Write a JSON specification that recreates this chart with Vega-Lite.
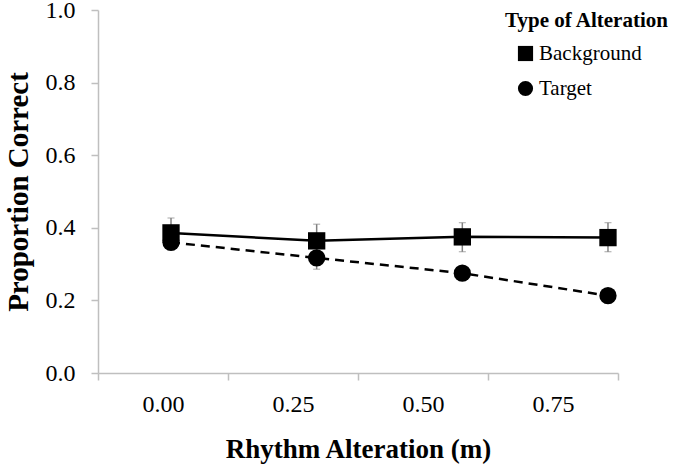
{
  "$schema": "https://vega.github.io/schema/vega-lite/v6.json",
  "width": 520,
  "height": 363,
  "autosize": "none",
  "padding": {"left": 98, "top": 10, "right": 67, "bottom": 91},
  "background": "white",
  "config": {
    "view": {"stroke": null},
    "axis": {
      "domainColor": "#bfbfbf",
      "domainWidth": 1.5,
      "tickColor": "#bfbfbf",
      "tickWidth": 1.5,
      "tickSize": 7,
      "grid": false,
      "labelFont": "Liberation Serif",
      "labelFontSize": 24,
      "labelColor": "black",
      "titleFont": "Liberation Serif",
      "titleFontWeight": "bold",
      "titleColor": "black"
    }
  },
  "datasets": {
    "cats": [{"m": "0.00"}, {"m": "0.25"}, {"m": "0.50"}, {"m": "0.75"}],
    "obs": [
      {"m": 0.0, "type": "Background", "p": 0.386, "lo": 0.345, "hi": 0.427},
      {"m": 0.25, "type": "Background", "p": 0.364, "lo": 0.318, "hi": 0.410},
      {"m": 0.5, "type": "Background", "p": 0.375, "lo": 0.334, "hi": 0.414},
      {"m": 0.75, "type": "Background", "p": 0.373, "lo": 0.334, "hi": 0.414},
      {"m": 0.0, "type": "Target", "p": 0.36, "lo": 0.34, "hi": 0.38},
      {"m": 0.25, "type": "Target", "p": 0.317, "lo": 0.286, "hi": 0.348},
      {"m": 0.5, "type": "Target", "p": 0.275, "lo": 0.26, "hi": 0.29},
      {"m": 0.75, "type": "Target", "p": 0.213, "lo": 0.2, "hi": 0.226}
    ]
  },
  "layer": [
    {
      "data": {"name": "cats"},
      "mark": {"type": "point", "opacity": 0},
      "encoding": {
        "x": {
          "field": "m",
          "type": "ordinal",
          "scale": {"type": "band", "paddingInner": 0, "paddingOuter": 0},
          "axis": {
            "title": "Rhythm Alteration (m)",
            "titleFontSize": 27,
            "labelAngle": 0,
            "labelPadding": 12,
            "titlePadding": 20,
            "tickBand": "extent"
          }
        }
      }
    },
    {
      "data": {"name": "obs"},
      "encoding": {
        "x": {"field": "m", "type": "quantitative", "scale": {"domain": [-0.1253, 0.7672], "nice": false, "zero": false}, "axis": null},
        "y": {
          "field": "p",
          "type": "quantitative",
          "scale": {"domain": [0, 1], "nice": false},
          "axis": {"title": "Proportion Correct", "titleFontSize": 29, "values": [0, 0.2, 0.4, 0.6, 0.8, 1.0], "format": ".1f", "labelPadding": 16, "titlePadding": 12}
        }
      },
      "layer": [
        {
          "mark": {"type": "errorbar", "ticks": {"size": 7, "color": "#808080", "strokeWidth": 1.5}, "rule": {"color": "#808080", "strokeWidth": 1.5}},
          "encoding": {
            "y": {"field": "lo", "type": "quantitative"},
            "y2": {"field": "hi"},
            "detail": {"field": "type"}
          }
        },
        {
          "transform": [{"filter": "datum.type === 'Background'"}],
          "mark": {"type": "line", "color": "black", "strokeWidth": 2.5}
        },
        {
          "transform": [{"filter": "datum.type === 'Target'"}],
          "mark": {"type": "line", "color": "black", "strokeWidth": 2.5, "strokeDash": [9, 6]}
        },
        {
          "mark": {"type": "point", "filled": true, "opacity": 1, "color": "black", "size": 300},
          "encoding": {
            "shape": {
              "field": "type",
              "type": "nominal",
              "scale": {"domain": ["Background", "Target"], "range": ["square", "circle"]},
              "legend": {
                "title": "Type of Alteration",
                "orient": "none",
                "legendX": 407,
                "legendY": 0,
                "titleFont": "Liberation Serif",
                "titleFontSize": 21,
                "titleFontWeight": "bold",
                "titleColor": "black",
                "titlePadding": 12,
                "labelFont": "Liberation Serif",
                "labelFontSize": 21,
                "labelColor": "black",
                "symbolOffset": 10,
                "labelOffset": 3,
                "symbolSize": 230,
                "symbolFillColor": "black",
                "rowPadding": 12
              }
            }
          }
        }
      ]
    }
  ],
  "resolve": {"scale": {"x": "independent"}, "axis": {"x": "independent"}}
}
